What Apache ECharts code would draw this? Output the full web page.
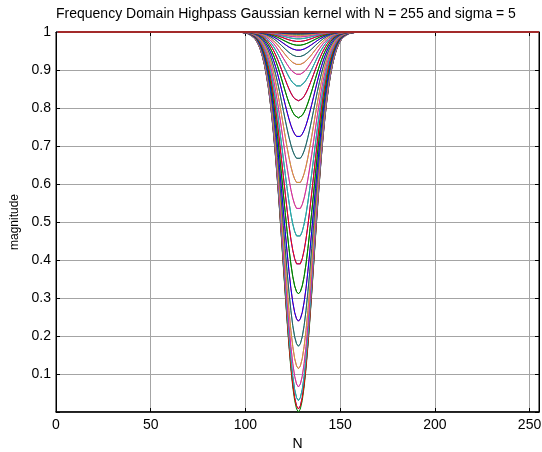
<!DOCTYPE html>
<html>
<head>
<meta charset="utf-8">
<script src="https://cdn.jsdelivr.net/npm/echarts@6/dist/echarts.min.js"></script>
<style>html,body{margin:0;padding:0;background:#fff}#c{width:542px;height:452px}</style>
</head>
<body>
<div id="c"></div>
<script>
// Title / labels
var titleText = 'Frequency Domain Highpass Gaussian kernel with N = 255 and sigma = 5';
var xName = 'N';
var yName = 'magnitude';
var xTicks = [0, 50, 100, 150, 200, 250];
var yTicks = [0.1, 0.2, 0.3, 0.4, 0.5, 0.6, 0.7, 0.8, 0.9, 1];

// N samples (rows / columns), centre index of the kernel
var N = 255;
var centre = 128;

// Magnitude of the deepest curve (the one through the centre) at offsets 0..30
// from the centre; equally, the minimum of the row that lies at that offset.
var minima = [0.000, 0.008, 0.030, 0.066, 0.114, 0.173, 0.239, 0.311, 0.385, 0.459,
              0.532, 0.601, 0.665, 0.723, 0.774, 0.819, 0.857, 0.888, 0.914, 0.935,
              0.952, 0.965, 0.975, 0.982, 0.987, 0.991, 0.994, 0.996, 0.997, 0.998, 0.999];

// Colour order of the plotted rows
var colorOrder = ['#0000ff', '#008000', '#ff0000', '#1cb8b8', '#d21fc0', '#d0a52a', '#35585a'];
var flatColor = '#a32a2a';

function depth(k) { k = Math.abs(k); return k < minima.length ? 1 - minima[k] : 0; }

var series = [];
for (var r = 1; r <= N; r++) {
  var d = r - centre;
  if (Math.abs(d) >= minima.length) continue;
  var a = depth(d);
  var pts = [];
  for (var x = 1; x <= N; x++) {
    pts.push([x, 1 - a * depth(x - centre)]);
  }
  series.push({
    type: 'line', data: pts, showSymbol: false, symbol: 'none',
    lineStyle: { width: 1, color: colorOrder[(r - 1) % 7] },
    silent: true, z: 2
  });
}
// the last rows are flat at magnitude 1
series.push({
  type: 'line', data: [[1, 1], [N, 1]], showSymbol: false, symbol: 'none',
  lineStyle: { width: 2, color: flatColor }, silent: true, z: 3
});

var font = 'Liberation Sans, Arial, sans-serif';
var gridLine = { show: true, lineStyle: { color: '#a4a4a4', type: 'solid', width: 1 } };
var chart = echarts.init(document.getElementById('c'), null, { renderer: 'canvas' });
chart.setOption({
  animation: false,
  backgroundColor: '#fff',
  title: {
    text: titleText, left: 51, top: 2,
    textStyle: { fontFamily: font, fontSize: 14, fontWeight: 'normal', color: '#000' }
  },
  grid: { left: 56, right: 3, top: 32, bottom: 40, show: true, borderColor: '#000', borderWidth: 1,
          containLabel: false, outerBoundsMode: 'none' },
  xAxis: [{
    type: 'value', min: 0, max: 255, interval: 50,
    name: xName, nameLocation: 'middle', nameGap: 25,
    nameTextStyle: { fontFamily: font, fontSize: 14, color: '#000' },
    axisLine: { show: true, onZero: false, lineStyle: { color: '#000', width: 1.5 } },
    axisTick: { show: true, inside: true, length: 4, lineStyle: { color: '#000' } },
    axisLabel: { fontFamily: font, fontSize: 14, color: '#000', margin: 6,
      formatter: function (v) { return xTicks.indexOf(v) >= 0 ? String(v) : ''; } },
    splitLine: gridLine
  }, {
    type: 'value', min: 0, max: 255, interval: 50, position: 'top',
    axisLine: { show: true, onZero: false, lineStyle: { color: '#000' } },
    axisTick: { show: true, inside: true, length: 4, lineStyle: { color: '#000' } },
    axisLabel: { show: false }, splitLine: { show: false }
  }],
  yAxis: [{
    type: 'value', min: 0, max: 1, interval: 0.1,
    name: yName, nameLocation: 'middle', nameGap: 33, nameRotate: 90,
    nameTextStyle: { fontFamily: font, fontSize: 12, color: '#000' },
    axisLine: { show: true, onZero: false, lineStyle: { color: '#000' } },
    axisTick: { show: true, inside: true, length: 4, lineStyle: { color: '#000' } },
    axisLabel: { fontFamily: font, fontSize: 14, color: '#000', margin: 5,
      formatter: function (v) {
        var t = Math.round(v * 10) / 10;
        return yTicks.indexOf(t) >= 0 ? String(t) : '';
      } },
    splitLine: gridLine
  }, {
    type: 'value', min: 0, max: 1, interval: 0.1, position: 'right',
    axisLine: { show: true, onZero: false, lineStyle: { color: '#000' } },
    axisTick: { show: true, inside: true, length: 4, lineStyle: { color: '#000' } },
    axisLabel: { show: false }, splitLine: { show: false }
  }],
  series: series
});
</script>
</body>
</html>
